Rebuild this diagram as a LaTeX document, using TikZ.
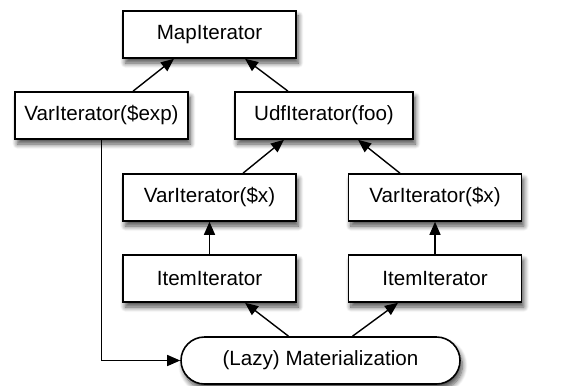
\documentclass[tikz,border=0pt]{standalone}
\usepackage{fontspec}
\setmainfont{Liberation Sans}
\usetikzlibrary{positioning, arrows.meta, shadows.blur}

\tikzset{
  iterbox/.style={draw, line width=0.8pt, fill=white, minimum width=86.5pt,
    minimum height=23.5pt, inner sep=0pt, font=\fontsize{10.3}{12}\selectfont,
    blur shadow={shadow xshift=1.2pt, shadow yshift=-2.5pt, shadow blur radius=2.5pt,
      shadow blur steps=8, shadow opacity=70}},
  matbox/.style={iterbox, rounded corners=11.75pt, minimum width=139.5pt},
  link/.style={-{Triangle[length=6.5pt,width=5.5pt]}, line width=0.7pt}
}

\begin{document}
\begin{tikzpicture}[x=0.5pt, y=-0.5pt]
        \useasboundingbox (0,0) rectangle (576,385);
        % Iteradores
        \node[iterbox] (map) at (209.5,34.5) {MapIterator};
        \node[iterbox] (vexp) at (101.5,115.5) {VarIterator(\$exp)};
        \node[iterbox, minimum width=89pt] (udf) at (324,115.5) {UdfIterator(foo)};
        \node[iterbox] (varxl) at (209.5,197.5) {VarIterator(\$x)};
        \node[iterbox] (varxr) at (435,197.5) {VarIterator(\$x)};
        \node[iterbox] (iteml) at (209.5,278.5) {ItemIterator};
        \node[iterbox] (itemr) at (435,278.5) {ItemIterator};
        \node[matbox] (mat) at (320.5,360.5) {(Lazy) Materialization};
        % Flechas
        \draw[link] ([xshift=15.75pt]vexp.north) -- ([xshift=-17.75pt]map.south);
        \draw[link] ([xshift=-18pt]udf.north) -- ([xshift=17.75pt]map.south);
        \draw[link] ([xshift=16.75pt]varxl.north) -- ([xshift=-20pt]udf.south);
        \draw[link] ([xshift=-17.5pt]varxr.north) -- ([xshift=17pt]udf.south);
        \draw[link] (iteml) -- (varxl);
        \draw[link] (itemr) -- (varxr);
        \draw[link] ([xshift=-16pt]mat.north) -- ([xshift=17.75pt]iteml.south);
        \draw[link] ([xshift=16pt]mat.north) -- ([xshift=-18.5pt]itemr.south);
        \draw[link] (vexp.south) |- (mat.west);
    \end{tikzpicture}
\end{document}
